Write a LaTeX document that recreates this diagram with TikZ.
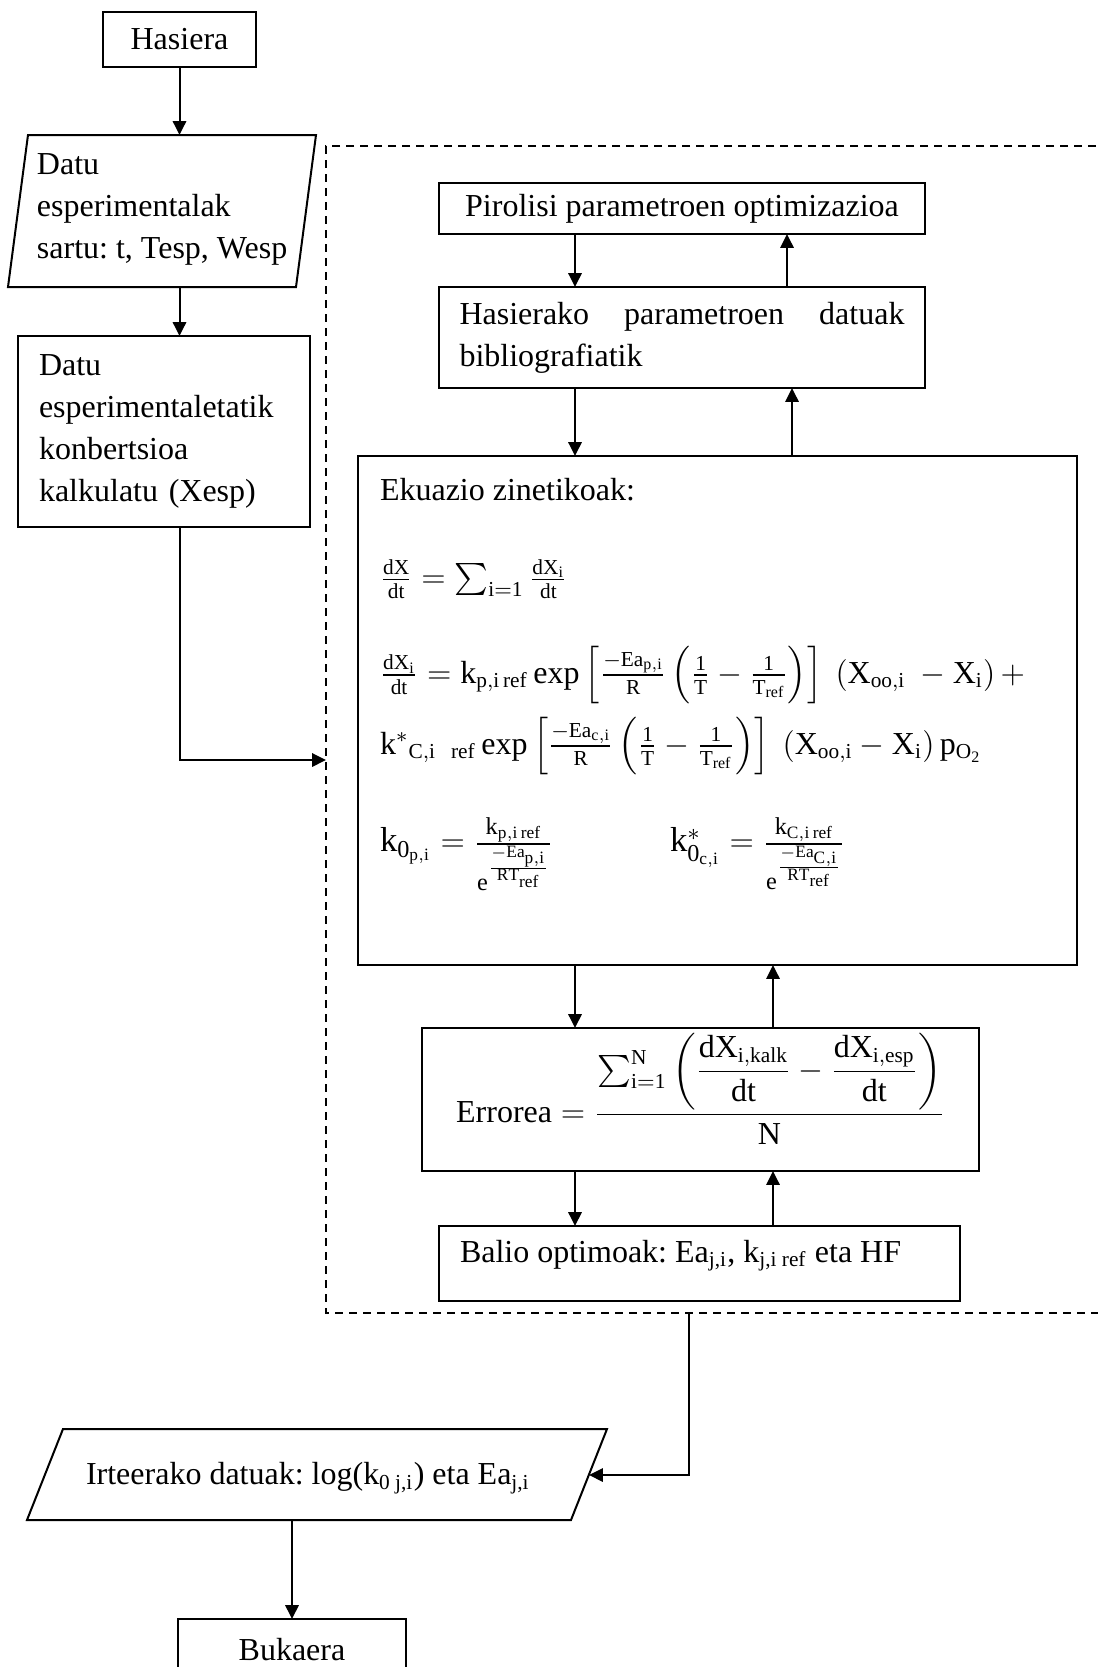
\documentclass[tikz,border=0pt]{standalone}
\usepackage{amsmath}
\usepackage{fontspec}
\setmainfont{Liberation Serif}
\usetikzlibrary{arrows.meta,calc}
\frenchspacing

\begin{document}
\begin{tikzpicture}[x=0.375pt,y=-0.375pt,
  line width=0.75pt,
  txtfont/.style={font=\fontsize{12}{15.75}\selectfont},
  box/.style={draw, inner sep=0pt, outer sep=0pt, txtfont},
  frame/.style={inner sep=0pt, outer sep=0pt},
  txt/.style={inner sep=0pt, outer sep=0pt, txtfont, align=left},
  eqn/.style={inner sep=0pt, outer sep=0pt, font=\fontsize{12}{15}\selectfont},
  arr/.style={-{Triangle[length=5.2pt,width=5pt]}},
  dashframe/.style={dash pattern=on 3pt off 2.25pt}
]
\useasboundingbox (0,0) rectangle (1097,1667);

% ---- left column ----
\node[box, minimum width=57.375pt, minimum height=20.625pt] (start) at (179.5,39.5) {Hasiera};

\node[frame, minimum width=115.5pt, minimum height=57pt] (inp) at (162,211) {};
\draw ($(inp.north west)+(20,0)$) -- (inp.north east) -- ($(inp.south east)+(-20,0)$) -- (inp.south west) -- cycle;
\node[txt, anchor=west] (inptxt) at (37,209) {Datu\\esperimentalak\\sartu: t, Tesp, Wesp};

\node[box, minimum width=109.5pt, minimum height=71.625pt, text width=93.75pt, align=left] (conv) at (164,431.5)
  {Datu\\esperimentaletatik\\konbertsioa\\kalkulatu (Xesp)};

% ---- optimisation loop (dashed frame) ----
\draw[dashframe] (1110,146) -- (326,146) -- (326,1313) -- (1110,1313);

\node[box, minimum width=182.25pt, minimum height=19.125pt] (opt) at (682,208.5) {Pirolisi parametroen optimizazioa};

\node[box, minimum width=182.25pt, minimum height=37.875pt, text width=166.875pt, align=justify] (init) at (682,337.5)
  {Hasierako parametroen datuak\linebreak bibliografiatik};

\node[frame, draw, minimum width=269.625pt, minimum height=190.875pt] (kin) at (717.5,710.5) {};
\node[txt, anchor=base west] (kintitle) at (380,500) {Ekuazio zinetikoak:};
\node[eqn, anchor=west] (eqA) at (380,579)
  {$\mathrm{\frac{dX}{dt} = \sum_{i=1}\frac{dX_i}{dt}}$};
\node[eqn, anchor=west] (eqB) at (380,675)
  {$\mathrm{\frac{dX_i}{dt} = k_{p,i\,ref}\,exp\left[\frac{-Ea_{p,i}}{R}\left(\frac{1}{T}-\frac{1}{T_{ref}}\right)\right]\ \left(X_{oo,i}\ -X_i\right) +}$};
\node[eqn, anchor=west] (eqC) at (380,746)
  {$\mathrm{k^{*}{}_{C,i\ \ ref}\,exp\left[\frac{-Ea_{c,i}}{R}\left(\frac{1}{T}-\frac{1}{T_{ref}}\right)\right]\ \left(X_{oo,i}-X_i\right)p_{O_2}}$};
\node[eqn, anchor=west, font=\fontsize{13}{16}\selectfont] (eqD) at (380,854)
  {$\mathrm{k_{0_{p,i}} = \frac{k_{p,i\,ref}}{e^{\frac{-Ea_{p,i}}{RT_{ref}}}}}$};
\node[eqn, anchor=west, font=\fontsize{13}{16}\selectfont] (eqE) at (670,854)
  {$\mathrm{k^{*}_{0_{c,i}} = \frac{k_{C,i\,ref}}{e^{\frac{-Ea_{C,i}}{RT_{ref}}}}}$};

\node[box, minimum width=208.875pt, minimum height=53.625pt, font=\fontsize{12}{15}\selectfont] (err) at (700.5,1099.5)
  {\raisebox{4pt}[\height][\depth]{$\displaystyle\mathrm{Errorea = \frac{\textstyle\sum\nolimits_{i=1}^{N}\left(\dfrac{dX_{i,kalk}}{dt}-\dfrac{dX_{i,esp}}{dt}\right)}{N}}$}};

\node[frame, draw, minimum width=195.375pt, minimum height=28.125pt] (best) at (699.5,1263.5) {};
\node[txt, anchor=base west] (besttxt) at (460,1262)
  {Balio optimoak: Ea\textsubscript{j,i}, k\textsubscript{j,i ref} eta HF};

% ---- output and end ----
\node[frame, minimum width=217.5pt, minimum height=34.125pt] (outp) at (317,1474.5) {};
\draw ($(outp.north west)+(36,0)$) -- (outp.north east) -- ($(outp.south east)+(-36,0)$) -- (outp.south west) -- cycle;
\node[txt] (outtxt) at (308,1478)
  {Irteerako datuak: log(k\textsubscript{0 j,i}) eta Ea\textsubscript{j,i}};

\node[box, minimum width=85.5pt, minimum height=23.25pt] (end) at (292,1650) {Bukaera};

% ---- connectors ----
\coordinate (dn) at (575,0);
\coordinate (upA) at (787,0);
\coordinate (upB) at (792,0);
\coordinate (upC) at (773,0);
\coordinate (fin) at (326,760);
\coordinate (fout) at (689,1313);
\coordinate (pin) at (589,1475);

\draw[arr] (start.south) -- (start.south |- inp.north);
\draw[arr] (start.south |- inp.south) -- (start.south |- conv.north);
\draw[arr] (start.south |- conv.south) -- (start.south |- fin) -- (fin);

\draw[arr] (opt.south -| dn) -- (init.north -| dn);
\draw[arr] (init.north -| upA) -- (opt.south -| upA);
\draw[arr] (init.south -| dn) -- (kin.north -| dn);
\draw[arr] (kin.north -| upB) -- (init.south -| upB);
\draw[arr] (kin.south -| dn) -- (err.north -| dn);
\draw[arr] (err.north -| upC) -- (kin.south -| upC);
\draw[arr] (err.south -| dn) -- (best.north -| dn);
\draw[arr] (best.north -| upC) -- (err.south -| upC);

\draw[arr] (fout) -- (fout |- pin) -- (pin);
\draw[arr] (outp.south -| end.north) -- (end.north);
\end{tikzpicture}
\end{document}
